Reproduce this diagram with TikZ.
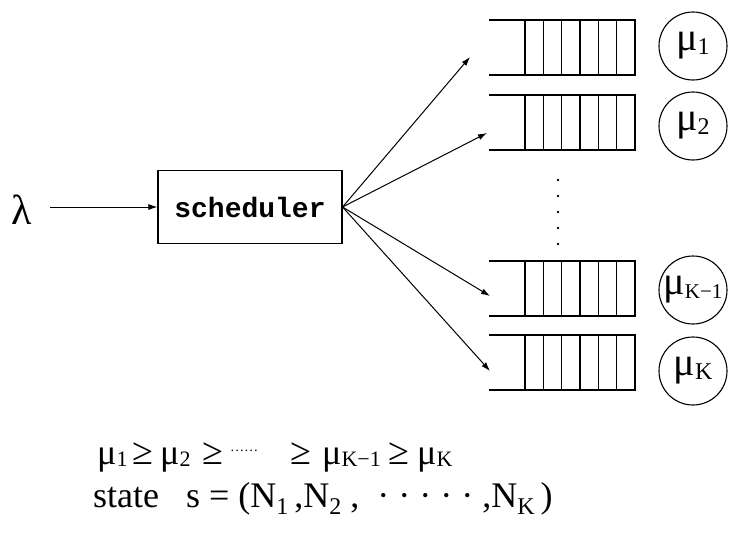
\documentclass[tikz,border=0pt]{standalone}
\usepackage{fontspec}
\setmainfont{Liberation Serif}
\setmonofont{Liberation Mono}
\usetikzlibrary{arrows.meta}

\newcommand{\sub}[1]{\raisebox{-2pt}{\fontsize{22}{22}\selectfont #1}}
\newcommand{\csub}[1]{\raisebox{-4pt}{\fontsize{24}{24}\selectfont #1}}
\newcommand{\lsub}[1]{\raisebox{-7pt}{\fontsize{24}{24}\selectfont #1}}
% a piece of text in a box of fixed width
\newcommand{\pc}[2]{\makebox[#1pt][l]{#2}}

\begin{document}
\begin{tikzpicture}[x=1pt,y=-1pt,
  qline/.style={line width=1.3pt},
  cell/.style={line width=1.1pt},
  arr/.style={line width=1pt,-{Latex[length=9pt,width=6pt]}},
  server/.style={circle,draw,line width=1.1pt,minimum size=68pt,inner sep=0pt,
                 font=\fontsize{40}{40}\selectfont},
  sched/.style={draw,line width=1.1pt,minimum width=184pt,minimum height=73pt,
                font=\fontsize{28}{28}\selectfont\ttfamily\bfseries},
  txt/.style={anchor=base west,inner sep=0pt}]
\useasboundingbox (0,0) rectangle (731,544);

% arrival and scheduler
\node[inner sep=0pt,font=\fontsize{42}{42}\selectfont] (lam) at (22,210) {λ};
\node[sched] (sch) at (250,207) {scheduler};
\coordinate (src) at (50,207);
\draw[arr] (src) -- (sch.west);

% queues (open on the left, six cells at the right end)
\foreach \t/\n in {20/1,95/2,261/3,335/4}{
  \draw[qline] (489,\t) -- (635,\t) -- (635,\t+55) -- (489,\t+55);
  \foreach \x in {525,543.3,561.6,580,598.3,616.6}
    \draw[cell] (\x,\t) -- (\x,\t+55);
  \coordinate (q\n) at (489,\t+27.5);
}

% dispatch arrows
\coordinate (out) at (sch.east);
\coordinate (e1) at (470,57);
\coordinate (e2) at (487,133);
\coordinate (e3) at (490,296);
\coordinate (e4) at (490,371);
\foreach \i in {1,...,4} \draw[arr] (out) -- (e\i);

% vertical ellipsis between the queues
\foreach \y in {180,196,212,228,244}
  \fill (558,\y) circle (1.4pt);

% servers
\node[server] (s1) at (693,46) {μ\csub{1}};
\node[server] (s2) at (693,126) {μ\csub{2}};
\node[server] (s3) at (693,290)
  {\hspace*{-8pt}μ\raisebox{-4pt}{\fontsize{21}{21}\selectfont K−1}\hspace*{-8pt}};
\node[server] (s4) at (693,371) {μ\csub{K}};

% ordering of rates
\node[txt,font=\fontsize{36}{36}\selectfont] (ord) at (97,464)
  {\pc{35}{μ\sub{1}}\pc{28}{\fontsize{38}{38}\selectfont ≥}\pc{42}{μ\sub{2}}%
   \pc{28}{\fontsize{38}{38}\selectfont ≥}%
   \pc{60}{\raisebox{9pt}{\fontsize{14}{14}\selectfont ······}}%
   \pc{32}{\fontsize{38}{38}\selectfont ≥}\pc{66}{μ\sub{K−1}}%
   \pc{29}{\fontsize{38}{38}\selectfont ≥}μ\sub{K}};
% system state
\node[txt,font=\fontsize{36}{36}\selectfont] (st) at (93,507)
  {state\ \ \ s = (N\lsub{1}\,,N\lsub{2}\ ,\ \ ·\ ·\ ·\ ·\ · ,N\lsub{K}\,)};
\end{tikzpicture}
\end{document}
